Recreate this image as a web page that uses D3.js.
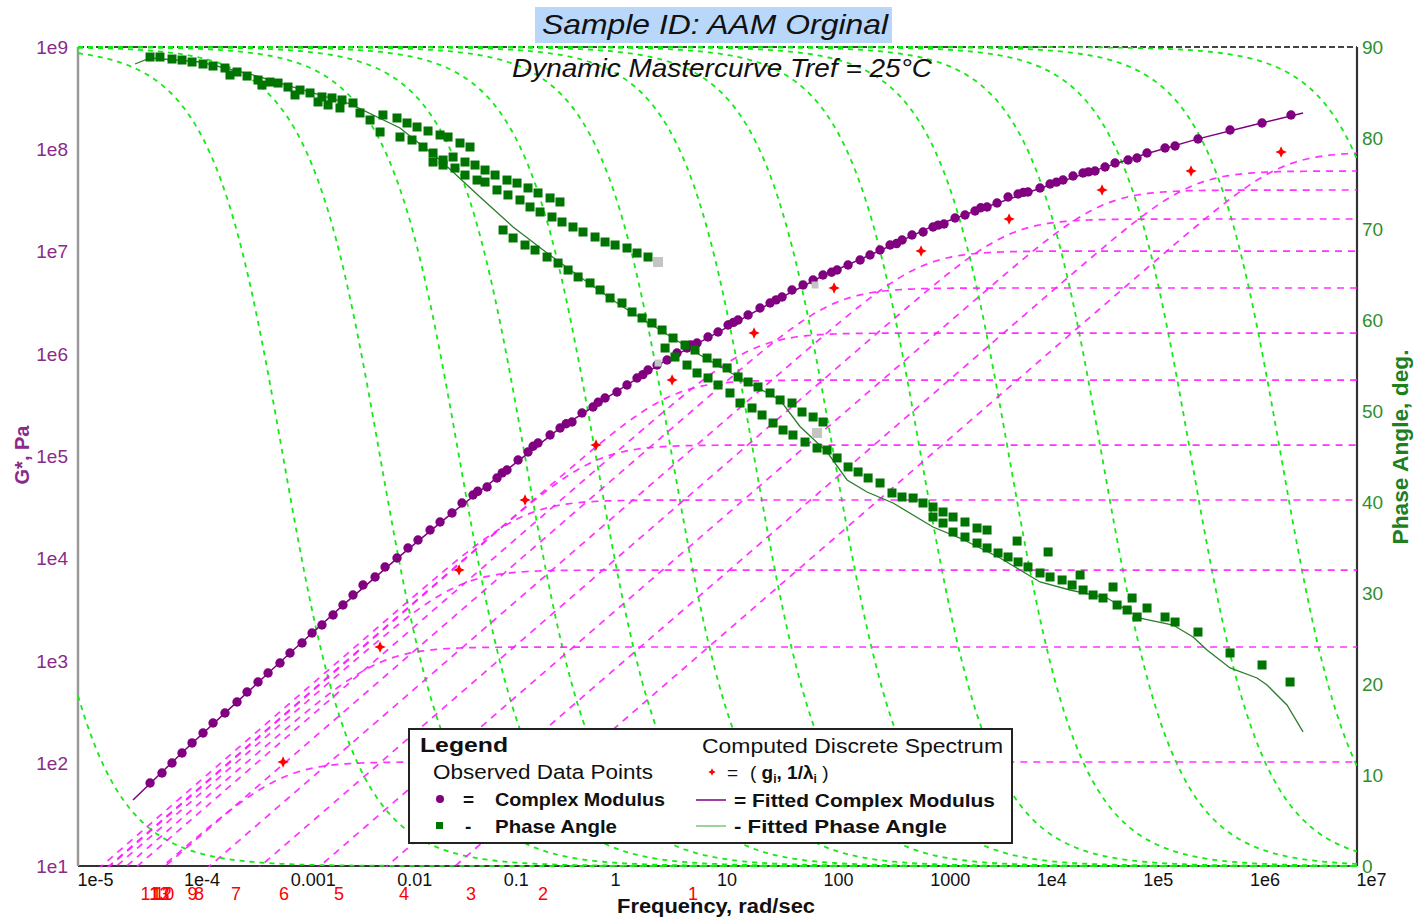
<!DOCTYPE html>
<html>
<head>
<meta charset="utf-8">
<script src="https://cdn.jsdelivr.net/npm/d3@7"></script>
<style>
  html, body { margin: 0; padding: 0; background: #fff; }
  svg { display: block; font-family: "Liberation Sans", Arial, sans-serif; }
</style>
</head>
<body>
<svg id="chart" width="1422" height="923"></svg>
<script>
// ---------------- Data (log10 of frequency in rad/s, log10 of |G*| in Pa, phase in degrees) ----------------

// Observed complex modulus |G*| (master curve, Tref = 25 °C)
const modulusLogFreq = [
  -4.324, -4.212, -4.118, -4.024, -3.930, -3.827, -3.733, -3.621, -3.508, -3.414,
  -3.311, -3.217, -3.105, -3.011, -2.898, -2.804, -2.711, -2.607, -2.514, -2.420,
  -2.326, -2.213, -2.119, -2.007, -1.904, -1.810, -1.697, -1.603, -1.491, -1.397,
  -1.294, -1.250, -1.162, -1.069, -1.020, -0.975, -0.871, -0.778, -0.730, -0.684,
  -0.571, -0.477, -0.420, -0.365, -0.271, -0.168, -0.120, -0.055, 0.057, 0.151,
  0.245, 0.300, 0.348, 0.433, 0.527, 0.620, 0.714, 0.750, 0.808, 0.911,
  1.005, 1.099, 1.150, 1.193, 1.287, 1.399, 1.493, 1.550, 1.606, 1.699,
  1.803, 1.897, 1.990, 2.070, 2.122, 2.225, 2.338, 2.431, 2.525, 2.619,
  2.680, 2.732, 2.825, 2.929, 3.022, 3.070, 3.125, 3.229, 3.322, 3.416,
  3.470, 3.529, 3.623, 3.726, 3.820, 3.870, 3.913, 4.026, 4.120, 4.180,
  4.242, 4.336, 4.429, 4.480, 4.542, 4.636, 4.730, 4.852, 4.936, 5.030,
  5.199, 5.293, 5.508, 5.809, 6.109, 6.381
];
const modulusLogG = [
  1.811, 1.908, 2.006, 2.104, 2.202, 2.299, 2.397, 2.495, 2.602, 2.700,
  2.797, 2.885, 2.983, 3.081, 3.178, 3.276, 3.354, 3.452, 3.549, 3.647,
  3.745, 3.823, 3.921, 4.009, 4.106, 4.184, 4.282, 4.360, 4.448, 4.546,
  4.624, 4.660, 4.702, 4.790, 4.840, 4.868, 4.966, 5.044, 5.100, 5.132,
  5.210, 5.278, 5.320, 5.337, 5.425, 5.484, 5.530, 5.571, 5.630, 5.698,
  5.767, 5.800, 5.845, 5.894, 5.943, 6.011, 6.060, 6.090, 6.109, 6.167,
  6.216, 6.284, 6.310, 6.333, 6.382, 6.451, 6.499, 6.530, 6.558, 6.626,
  6.675, 6.724, 6.773, 6.800, 6.822, 6.871, 6.919, 6.968, 7.017, 7.066,
  7.080, 7.115, 7.164, 7.193, 7.242, 7.260, 7.271, 7.330, 7.359, 7.398,
  7.430, 7.437, 7.476, 7.535, 7.564, 7.580, 7.584, 7.623, 7.662, 7.680,
  7.701, 7.740, 7.769, 7.780, 7.789, 7.828, 7.867, 7.896, 7.916, 7.965,
  8.013, 8.033, 8.101, 8.189, 8.258, 8.336
];

// Observed phase angle, degrees
const phaseLogFreq = [
  // low-frequency isotherms
  -4.324, -4.231, -4.118, -4.024, -3.930, -3.827, -3.733, -3.621, -3.574, -3.508,
  -3.414, -3.311, -3.274, -3.199, -3.123, -3.030, -2.964, -2.917, -2.823, -2.748,
  -2.711, -2.654, -2.617, -2.542, -2.523, -2.420, -2.354, -2.260, -2.166, -2.139,
  -2.007, -1.979, -1.913, -1.866, -1.819, -1.763, -1.716, -1.669, -1.669, -1.603,
  -1.575, -1.575, -1.528, -1.481, -1.463, -1.416, -1.369, -1.369, -1.322, -1.275,
  -1.256,
  -1.181, -1.087, -0.975, -0.881, -0.778, -0.684, -0.571, -0.478,
  -1.181, -1.069, -0.966, -0.853, -0.759, -0.665, -0.553, -0.459, -0.356, -0.262,
  -0.149, -0.055, 0.039, 0.151, 0.245, 0.348,
  // intermediate isotherms
  -1.012, -0.918, -0.806, -0.712, -0.599, -0.496, -0.402, -0.308, -0.196, -0.102,
  -0.008, 0.104, 0.198, 0.292, 0.386, 0.480, 0.583, 0.695, 0.789, 0.902,
  0.996, 1.090, 1.193, 1.287, 1.380, 1.493, 1.587, 1.699, 1.793, 1.897,
  1.990,
  0.508, 0.601, 0.714, 0.808, 0.911, 1.005, 1.117, 1.211, 1.324, 1.418,
  1.521, 1.615, 1.708, 1.821, 1.934, 2.028, 2.122, 2.225, 2.319, 2.413,
  2.525, 2.637, 2.731, 2.835, 2.928, 3.022, 3.116, 3.210, 3.322, 3.435,
  3.529,
  // high-frequency isotherms
  3.022, 3.116, 3.210, 3.322, 3.435, 3.529, 3.632, 3.726, 3.820, 3.913,
  4.026, 4.120, 4.233, 4.327, 4.430, 4.524, 4.617, 4.749, 4.843, 4.937,
  3.811, 4.102, 4.402, 4.711, 4.890, 5.030, 5.199, 5.293, 5.508, 5.809,
  6.109, 6.372
];
const phaseDeg = [
  88.90, 88.90, 88.68, 88.57, 88.35, 88.13, 87.91, 87.69, 86.92, 87.25,
  86.81, 86.37, 85.82, 86.15, 86.04, 85.60, 84.73, 85.27, 84.95, 83.96,
  84.51, 83.63, 84.40, 83.30, 84.18, 83.85, 82.75, 81.98, 80.66, 82.53,
  82.20, 80.11, 81.65, 79.78, 81.21, 79.01, 80.77, 78.35, 77.36, 80.33,
  77.58, 77.03, 80.11, 77.91, 76.70, 79.45, 77.36, 75.93, 79.01, 77.03,
  75.38,
  76.48, 75.93, 75.38, 75.05, 74.51, 73.96, 73.41, 72.97,
  75.16, 74.29, 73.74, 73.19, 72.42, 71.87, 71.32, 70.77, 70.22, 69.67,
  69.12, 68.57, 68.24, 67.91, 67.36, 66.92,
  69.89, 69.01, 68.24, 67.69, 66.92, 66.26, 65.49, 64.73, 64.07, 63.30,
  62.42, 61.87, 60.88, 60.22, 59.67, 58.90, 58.02, 57.25, 56.70, 55.82,
  55.27, 54.73, 53.74, 53.19, 52.64, 51.98, 51.21, 50.88, 49.89, 49.34,
  48.79,
  56.92, 55.93, 55.05, 54.18, 53.63, 52.86, 51.98, 50.88, 50.33, 49.56,
  48.68, 47.91, 47.36, 46.59, 45.93, 45.71, 44.84, 43.85, 43.30, 42.64,
  42.09, 40.99, 40.55, 40.44, 39.89, 39.45, 38.90, 38.35, 37.80, 37.14,
  36.92,
  38.35, 37.69, 36.70, 36.15, 35.49, 34.95, 34.40, 33.96, 33.41, 32.86,
  32.20, 31.76, 31.43, 30.88, 30.33, 29.78, 29.45, 28.68, 28.13, 27.36,
  35.71, 34.51, 31.98, 30.66, 29.45, 28.35, 27.36, 26.81, 25.71, 23.41,
  22.09, 20.22
];

// Points left out of the fit (drawn grey)
const excludedPhaseLogFreq = [0.442, 1.934];
const excludedPhaseDeg = [66.37, 47.58];
const excludedModLogFreq = [0.442, 1.915];
const excludedModLogG = [5.913, 6.675];

// Fitted model curves
const fitModLogFreq = [-4.484, -4.0, -3.5, -3.0, -2.5, -2.0, -1.5, -1.0, -0.5, 0.0,
  0.5, 1.0, 1.5, 2.0, 2.5, 3.0, 3.5, 4.0, 4.5, 5.0, 5.5, 6.0, 6.494];
const fitModLogG = [1.645, 2.13, 2.61, 3.09, 3.56, 4.01, 4.44, 4.85, 5.26, 5.60,
  5.93, 6.21, 6.50, 6.77, 7.00, 7.24, 7.43, 7.61, 7.78, 7.95, 8.10, 8.23, 8.355];
const fitPhaseLogFreq = [-4.465, -4.324, -3.855, -3.386, -2.917, -2.448, -1.979, -1.603,
  -1.228, -0.918, -0.599, -0.290, 0.085, 0.461, 0.836, 1.211, 1.587, 1.774, 2.028,
  2.216, 2.403, 2.647, 3.022, 3.275, 3.651, 4.026, 4.307, 4.655, 4.964, 5.274,
  5.462, 5.593, 5.809, 6.062, 6.156, 6.343, 6.494];
const fitPhaseDeg = [88.13, 88.79, 88.35, 87.03, 85.38, 83.74, 81.10, 77.58,
  73.52, 70.22, 67.36, 64.73, 61.65, 58.90, 56.15, 53.63, 51.21, 48.30, 45.49,
  42.42, 41.10, 39.89, 37.25, 36.04, 33.85, 31.21, 30.33, 29.45, 27.25, 26.48,
  25.16, 23.74, 21.76, 20.66, 19.89, 17.69, 14.73];

// Computed discrete spectrum (g_i, 1/lambda_i)
const spectrumLogInvLambda = [-3.076, -2.166, -1.425, -0.806, -0.140, 0.574, 1.343,
  2.094, 2.910, 3.736, 4.608, 5.443, 6.288];
const spectrumLogG = [2.016, 3.139, 3.891, 4.575, 5.112, 5.747, 6.206,
  6.646, 7.007, 7.320, 7.603, 7.789, 7.974];
// Outer phase elements bounding the spectrum
const outerPhaseLogInvLambda = [-5.47, 7.66];
// Slope of the rising branch of each element modulus curve
const elementSlope = 0.9;

// Isotherm markers along the frequency axis
const isothermLabels = ["1", "2", "3", "4", "5", "6", "7", "8", "9", "10", "11", "12", "13"];
const isothermLogFreq = [0.771, -0.637, -1.313, -1.941, -2.551, -3.067, -3.517,
  -3.865, -3.925, -4.190, -4.325, -4.215, -4.235];

// Axis ticks
const freqTicks = [1e-5, 1e-4, 1e-3, 1e-2, 1e-1, 1, 10, 100, 1000, 1e4, 1e5, 1e6, 1e7];
const freqTickLabels = ["1e-5", "1e-4", "0.001", "0.01", "0.1", "1", "10", "100", "1000", "1e4", "1e5", "1e6", "1e7"];
const modTicks = [1e1, 1e2, 1e3, 1e4, 1e5, 1e6, 1e7, 1e8, 1e9];
const modTickLabels = ["1e1", "1e2", "1e3", "1e4", "1e5", "1e6", "1e7", "1e8", "1e9"];
const phaseTicks = [0, 10, 20, 30, 40, 50, 60, 70, 80, 90];

// ---------------- Layout ----------------
const plot = { left: 78, right: 1357, top: 47, bottom: 866 };
const purple = "#800080";
const darkGreen = "#007400";
const limeGreen = "#16e916";
const magenta = "#ff1cff";

const svg = d3.select("#chart");

const x = d3.scaleLog().domain([1e-5, 1e7]).range([plot.left, plot.right]);
const yG = d3.scaleLog().domain([10, 1e9]).range([plot.bottom, plot.top]);
const yP = d3.scaleLinear().domain([0, 90]).range([plot.bottom, plot.top]);
const p10 = v => Math.pow(10, v);

svg.append("defs").append("clipPath").attr("id", "plotClip")
  .append("rect")
  .attr("x", plot.left).attr("y", plot.top - 1)
  .attr("width", plot.right - plot.left).attr("height", plot.bottom - plot.top + 2);

// ---------------- Title ----------------
svg.append("rect")
  .attr("x", 535).attr("y", 7).attr("width", 357).attr("height", 36)
  .attr("fill", "#b9d7f9");
svg.append("text")
  .attr("x", 542).attr("y", 34)
  .attr("font-size", 28).attr("font-style", "italic")
  .attr("textLength", 346).attr("lengthAdjust", "spacingAndGlyphs")
  .attr("fill", "#111")
  .text("Sample ID: AAM Orginal");

// ---------------- Frame ----------------
const frame = svg.append("g");
frame.append("line").attr("x1", plot.left).attr("x2", plot.right).attr("y1", plot.top).attr("y2", plot.top)
  .attr("stroke", "#444").attr("stroke-width", 2).attr("stroke-dasharray", "6,3");
frame.append("line").attr("x1", plot.left).attr("x2", plot.right).attr("y1", plot.bottom).attr("y2", plot.bottom)
  .attr("stroke", "#333").attr("stroke-width", 2.2);
frame.append("line").attr("x1", plot.right).attr("x2", plot.right).attr("y1", plot.top).attr("y2", plot.bottom)
  .attr("stroke", "#333").attr("stroke-width", 2.2);
frame.append("line").attr("x1", plot.left).attr("x2", plot.left).attr("y1", plot.top).attr("y2", plot.bottom)
  .attr("stroke", "#9a9a9a").attr("stroke-width", 2.5);

// ---------------- Element curves of the discrete spectrum ----------------
const sweep = d3.range(-5, 7.0001, 0.02);
const curves = svg.append("g").attr("clip-path", "url(#plotClip)");

// phase angle of each element: atan(1 / (w * lambda))
const phaseCenters = [outerPhaseLogInvLambda[0], ...spectrumLogInvLambda, outerPhaseLogInvLambda[1]];
const phaseLine = d3.line().x(d => x(p10(d[0]))).y(d => yP(d[1]));
phaseCenters.forEach(c => {
  const pts = sweep.map(lw => [lw, Math.atan(p10(c - lw)) * 180 / Math.PI]);
  curves.append("path")
    .attr("d", phaseLine(pts))
    .attr("fill", "none").attr("stroke", limeGreen)
    .attr("stroke-width", 1.8).attr("stroke-dasharray", "5,5");
});

// modulus of each element, levelling off at g_i
const modLine = d3.line().x(d => x(p10(d[0]))).y(d => yG(p10(d[1])));
spectrumLogInvLambda.forEach((c, i) => {
  const g = spectrumLogG[i];
  const pts = sweep.map(lw => {
    const r = Math.pow(p10(lw - c), elementSlope);
    return [lw, g + Math.log10(r / Math.sqrt(1 + r * r))];
  }).filter(d => d[1] > -2);
  curves.append("path")
    .attr("d", modLine(pts))
    .attr("fill", "none").attr("stroke", magenta)
    .attr("stroke-width", 1.7).attr("stroke-dasharray", "7,6")
    .attr("opacity", 0.9);
});

// ---------------- Fitted curves ----------------
const marks = svg.append("g").attr("clip-path", "url(#plotClip)");
marks.append("path")
  .attr("d", modLine(fitModLogFreq.map((f, i) => [f, fitModLogG[i]])))
  .attr("fill", "none").attr("stroke", purple).attr("stroke-width", 1.5);
marks.append("path")
  .attr("d", phaseLine(fitPhaseLogFreq.map((f, i) => [f, fitPhaseDeg[i]])))
  .attr("fill", "none").attr("stroke", "#2b7d2b").attr("stroke-width", 1.3);

// ---------------- Observed data ----------------
marks.append("g").selectAll("circle")
  .data(modulusLogFreq.map((f, i) => [f, modulusLogG[i]]))
  .join("circle")
  .attr("cx", d => x(p10(d[0]))).attr("cy", d => yG(p10(d[1])))
  .attr("r", 4.7).attr("fill", purple);

const sq = 9;
marks.append("g").selectAll("rect")
  .data(phaseLogFreq.map((f, i) => [f, phaseDeg[i]]))
  .join("rect")
  .attr("x", d => x(p10(d[0])) - sq / 2).attr("y", d => yP(d[1]) - sq / 2)
  .attr("width", sq).attr("height", sq).attr("fill", darkGreen);

marks.append("g").selectAll("rect")
  .data(excludedPhaseLogFreq.map((f, i) => [f, excludedPhaseDeg[i]]))
  .join("rect")
  .attr("x", d => x(p10(d[0])) - 5).attr("y", d => yP(d[1]) - 5)
  .attr("width", 10).attr("height", 10).attr("fill", "#c4c4c4");
marks.append("g").selectAll("rect")
  .data(excludedModLogFreq.map((f, i) => [f, excludedModLogG[i]]))
  .join("rect")
  .attr("x", d => x(p10(d[0])) - 3.5).attr("y", d => yG(p10(d[1])) - 3.5)
  .attr("width", 7).attr("height", 7).attr("fill", "#c4c4c4");

// four-point star used for the spectrum points
const star4 = {
  draw(ctx, size) {
    const r = Math.sqrt(size) / 2, k = r * 0.32;
    ctx.moveTo(0, -r); ctx.lineTo(k, -k); ctx.lineTo(r, 0); ctx.lineTo(k, k);
    ctx.lineTo(0, r); ctx.lineTo(-k, k); ctx.lineTo(-r, 0); ctx.lineTo(-k, -k);
    ctx.closePath();
  }
};
marks.append("g").selectAll("path")
  .data(spectrumLogInvLambda.map((f, i) => [f, spectrumLogG[i]]))
  .join("path")
  .attr("transform", d => `translate(${x(p10(d[0]))},${yG(p10(d[1]))})`)
  .attr("d", d3.symbol(star4, 130)())
  .attr("fill", "#ff0000");

// ---------------- Subtitle ----------------
svg.append("text")
  .attr("x", 512).attr("y", 77)
  .attr("font-size", 26).attr("font-style", "italic")
  .attr("textLength", 420).attr("lengthAdjust", "spacingAndGlyphs")
  .attr("fill", "#111")
  .text("Dynamic Mastercurve Tref = 25°C");

// ---------------- Axes ----------------
const xAxis = d3.axisBottom(x).tickValues(freqTicks)
  .tickFormat((d, i) => freqTickLabels[i]).tickSize(0).tickPadding(7);
svg.append("g").attr("transform", `translate(0,${plot.bottom})`).call(xAxis)
  .attr("font-size", 18).attr("font-family", null)
  .call(g => g.select(".domain").remove())
  .selectAll("text").attr("text-anchor", "start").attr("x", -1).attr("fill", "#111");

const yAxisL = d3.axisLeft(yG).tickValues(modTicks)
  .tickFormat((d, i) => modTickLabels[i]).tickSize(0).tickPadding(10);
svg.append("g").attr("transform", `translate(${plot.left},0)`).call(yAxisL)
  .attr("font-size", 19).attr("font-family", null)
  .call(g => g.select(".domain").remove())
  .selectAll("text").attr("fill", "#8a2a8a");

const yAxisR = d3.axisRight(yP).tickValues(phaseTicks)
  .tickFormat(d3.format("d")).tickSize(0).tickPadding(5);
svg.append("g").attr("transform", `translate(${plot.right},0)`).call(yAxisR)
  .attr("font-size", 19).attr("font-family", null)
  .call(g => g.select(".domain").remove())
  .selectAll("text").attr("fill", "#2f8f2f");

// isotherm numbers under the frequency axis
svg.append("g").selectAll("text")
  .data(isothermLabels)
  .join("text")
  .attr("x", (d, i) => x(p10(isothermLogFreq[i])))
  .attr("y", 900)
  .attr("text-anchor", "middle")
  .attr("font-size", 18).attr("fill", "#ff0000")
  .text(d => d);

// axis titles
svg.append("text")
  .attr("x", 716).attr("y", 913).attr("text-anchor", "middle")
  .attr("font-size", 20).attr("font-weight", "bold").attr("fill", "#111")
  .attr("textLength", 198).attr("lengthAdjust", "spacingAndGlyphs")
  .text("Frequency, rad/sec");
svg.append("text")
  .attr("transform", "translate(29,455) rotate(-90)").attr("text-anchor", "middle")
  .attr("font-size", 20).attr("font-weight", "bold").attr("fill", "#8a2a8a")
  .text("G*, Pa");
svg.append("text")
  .attr("transform", "translate(1408,447) rotate(-90)").attr("text-anchor", "middle")
  .attr("font-size", 22).attr("font-weight", "bold").attr("fill", "#1f7f1f")
  .attr("textLength", 195).attr("lengthAdjust", "spacingAndGlyphs")
  .text("Phase Angle, deg.");

// ---------------- Legend ----------------
const lg = svg.append("g");
lg.append("rect").attr("x", 409).attr("y", 729).attr("width", 603).attr("height", 114)
  .attr("fill", "#fff").attr("stroke", "#222").attr("stroke-width", 2);

function legendText(tx, ty, str, opts = {}) {
  const t = lg.append("text").attr("x", tx).attr("y", ty)
    .attr("font-size", opts.size || 19)
    .attr("font-weight", opts.bold ? "bold" : "normal")
    .attr("fill", "#111");
  if (opts.len) t.attr("textLength", opts.len).attr("lengthAdjust", "spacingAndGlyphs");
  t.text(str);
  return t;
}
legendText(420, 752, "Legend", { bold: true, size: 21, len: 88 });
legendText(433, 779, "Observed Data Points", { size: 20, len: 220 });
lg.append("circle").attr("cx", 440).attr("cy", 799).attr("r", 4).attr("fill", purple);
legendText(463, 806, "=", { bold: true });
legendText(495, 806, "Complex Modulus", { bold: true, len: 170 });
lg.append("rect").attr("x", 436).attr("y", 822).attr("width", 7).attr("height", 7).attr("fill", darkGreen);
legendText(465, 833, "-", { bold: true });
legendText(495, 833, "Phase Angle", { bold: true, len: 122 });

legendText(702, 753, "Computed Discrete Spectrum", { size: 20, len: 301 });
lg.append("path").attr("transform", "translate(712,772)")
  .attr("d", d3.symbol(star4, 60)()).attr("fill", "#ff0000");
legendText(727, 779, "=", { size: 19 });
const spec = lg.append("text").attr("x", 750).attr("y", 779).attr("font-size", 19).attr("fill", "#111");
spec.append("tspan").text("( ");
spec.append("tspan").attr("font-weight", "bold").text("g");
spec.append("tspan").attr("font-weight", "bold").attr("font-size", 12).attr("dy", 4).text("i");
spec.append("tspan").attr("dy", -4).attr("font-weight", "bold").text(", 1/λ");
spec.append("tspan").attr("font-weight", "bold").attr("font-size", 12).attr("dy", 4).text("i");
spec.append("tspan").attr("dy", -4).text(" )");

lg.append("line").attr("x1", 696).attr("x2", 726).attr("y1", 800).attr("y2", 800)
  .attr("stroke", purple).attr("stroke-width", 1.5);
legendText(734, 807, "= Fitted Complex Modulus", { bold: true, len: 261 });
lg.append("line").attr("x1", 696).attr("x2", 726).attr("y1", 826).attr("y2", 826)
  .attr("stroke", "#7cc47c").attr("stroke-width", 1.5);
legendText(734, 833, "- Fitted Phase Angle", { bold: true, len: 213 });
</script>
</body>
</html>
